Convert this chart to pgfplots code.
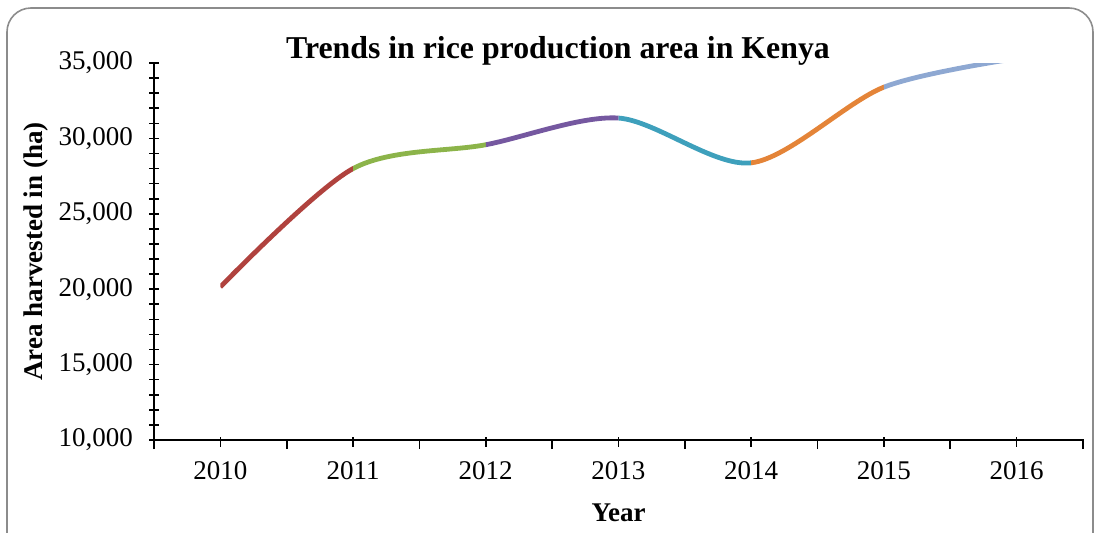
\documentclass[border=0pt]{standalone}
\usepackage{pgfplots}
\pgfplotsset{compat=1.18}
\usepackage{pgfplotstable}
\usepackage{fontspec}
\setmainfont{Liberation Serif}
\definecolor{sA}{RGB}{176,66,62}
\definecolor{sB}{RGB}{140,180,74}
\definecolor{sC}{RGB}{117,88,160}
\definecolor{sD}{RGB}{62,160,188}
\definecolor{sE}{RGB}{228,132,56}
\definecolor{sF}{RGB}{142,168,210}
\pgfplotstableread{
year area
2010 20150
2011 28000
2012 29580
2013 31350
2014 28380
2015 33400
2016 35300
}\datatable
\begin{document}
\begin{tikzpicture}
\useasboundingbox (-77pt,-46pt) rectangle (471pt,220pt);
\draw[gray!90, line width=0.8pt, rounded corners=12pt] (-73.5pt,-70pt) rectangle (469.5pt,216pt);
\begin{axis}[
  scale only axis, width=464.5pt, height=188.5pt,
  at={(0,0)}, anchor=south west,
  xmin=2009.5, xmax=2016.5, ymin=10000, ymax=35000,
  axis lines=left, axis line style={-, line width=0.8pt},
  xtick={2010,...,2016}, minor xtick={2009.5,2010.5,...,2016.5},
  ytick={10000,15000,...,35000}, minor ytick={11000,12000,...,34000},
  tick align=center, major tick length=5pt, minor tick length=5pt,
  every tick/.style={black, line width=0.8pt},
  minor x tick style={yshift=-2pt},
  major x tick style={yshift=-0.8pt},
  x tick label style={/pgf/number format/1000 sep={}, font=\fontsize{13.5}{15}\selectfont, yshift=-4.5pt},
  y tick label style={/pgf/number format/.cd, 1000 sep={,}, fixed, /tikz/font=\fontsize{13.5}{15}\selectfont, /tikz/xshift=-4.5pt},
  /pgf/number format/assume math mode=true,
  scaled y ticks=false,
  xlabel={\textbf{Year}}, ylabel={\textbf{Area harvested in (ha)}},
  xlabel style={font=\fontsize{13.5}{15}\selectfont, yshift=-5.5pt},
  ylabel style={font=\fontsize{13.5}{15}\selectfont, yshift=-1.5pt},
]
\begin{scope}
\clip (axis cs:2010,0) rectangle (axis cs:2011,40000);
\addplot[smooth, sA, line width=2.4pt] table {\datatable};
\end{scope}
\begin{scope}
\clip (axis cs:2011,0) rectangle (axis cs:2012,40000);
\addplot[smooth, sB, line width=2.4pt] table {\datatable};
\end{scope}
\begin{scope}
\clip (axis cs:2012,0) rectangle (axis cs:2013,40000);
\addplot[smooth, sC, line width=2.4pt] table {\datatable};
\end{scope}
\begin{scope}
\clip (axis cs:2013,0) rectangle (axis cs:2014,40000);
\addplot[smooth, sD, line width=2.4pt] table {\datatable};
\end{scope}
\begin{scope}
\clip (axis cs:2014,0) rectangle (axis cs:2015,40000);
\addplot[smooth, sE, line width=2.4pt] table {\datatable};
\end{scope}
\begin{scope}
\clip (axis cs:2015,0) rectangle (axis cs:2016.4,40000);
\addplot[smooth, sF, line width=2.4pt] table {\datatable};
\end{scope}
\end{axis}
\node[font=\bfseries\fontsize{15.9}{18}\selectfont] at (202pt,194.5pt) {Trends in rice production area in Kenya};
\end{tikzpicture}
\end{document}
